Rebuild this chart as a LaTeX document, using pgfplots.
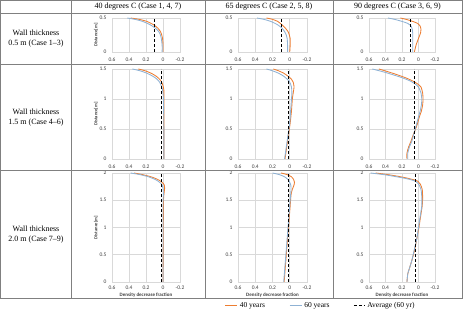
\documentclass[border=0pt]{standalone}
\usepackage{pgfplots}
\pgfplotsset{compat=1.18}
\usepackage{pgfplotstable}
\usepackage{fontspec}
\setmainfont{Liberation Serif}
\newfontfamily\calib{Carlito}
\definecolor{orgc}{RGB}{237,125,49}
\definecolor{bluc}{RGB}{143,178,212}
\definecolor{grd}{RGB}{217,217,217}
\definecolor{tbl}{RGB}{128,128,128}
\definecolor{tck}{RGB}{64,64,64}

\pgfplotstableread{
y o b
0 0 0.01
0.1 0 0.01
0.2 0.005 0.02
0.25 0.015 0.03
0.3 0.03 0.05
0.35 0.06 0.09
0.4 0.11 0.15
0.45 0.19 0.24
0.48 0.28 0.33
0.5 0.38 0.42
}\ta
\pgfplotstableread{
y o b
0 0 0.025
0.1 -0.005 0.025
0.2 -0.005 0.03
0.25 0.005 0.04
0.3 0.02 0.06
0.35 0.05 0.09
0.4 0.09 0.14
0.45 0.14 0.22
0.48 0.2 0.3
0.5 0.27 0.38
}\tb
\pgfplotstableread{
y o b
0 0.05 0.07
0.1 0.03 0.07
0.2 0.0 0.07
0.28 -0.025 0.07
0.33 -0.03 0.075
0.38 -0.02 0.09
0.42 0.01 0.13
0.45 0.07 0.2
0.48 0.15 0.29
0.5 0.22 0.37
}\tc
\pgfplotstableread{
y o b
0 -0.01 -0.01
0.5 -0.01 -0.01
1.0 -0.01 -0.005
1.15 -0.01 0.005
1.22 0.0 0.02
1.28 0.015 0.04
1.33 0.04 0.07
1.38 0.08 0.12
1.43 0.14 0.19
1.47 0.21 0.27
1.5 0.29 0.36
}\td
\pgfplotstableread{
y o b
0 0.055 0.06
0.2 0.035 0.04
0.4 0.015 0.02
0.6 -0.005 0.0
0.8 -0.02 -0.01
1.0 -0.03 -0.02
1.1 -0.04 -0.025
1.2 -0.05 -0.02
1.28 -0.04 0.0
1.33 -0.02 0.03
1.38 0.02 0.07
1.43 0.07 0.13
1.47 0.13 0.2
1.5 0.19 0.27
}\te
\pgfplotstableread{
y o b
0 0.14 0.13
0.1 0.14 0.13
0.2 0.12 0.11
0.3 0.09 0.08
0.4 0.065 0.06
0.5 0.035 0.04
0.6 0.01 0.02
0.7 -0.01 0.0
0.8 -0.035 -0.02
0.9 -0.05 -0.035
1.0 -0.055 -0.04
1.1 -0.05 -0.03
1.2 -0.03 0.0
1.25 0.01 0.04
1.3 0.07 0.1
1.35 0.15 0.19
1.4 0.25 0.3
1.45 0.36 0.42
1.5 0.48 0.56
}\tf
\pgfplotstableread{
y o b
0 0 0
1.4 -0.005 0
1.6 -0.01 -0.005
1.72 -0.02 0.0
1.78 -0.015 0.01
1.83 0.01 0.04
1.88 0.06 0.09
1.93 0.14 0.17
1.97 0.24 0.27
2.0 0.34 0.38
}\tg
\pgfplotstableread{
y o b
0 0.065 0.07
0.2 0.055 0.06
0.4 0.045 0.05
0.6 0.035 0.04
0.8 0.025 0.03
1.0 0.015 0.02
1.2 0.005 0.01
1.4 -0.005 0.0
1.6 -0.015 -0.01
1.7 -0.03 -0.015
1.78 -0.05 -0.012
1.83 -0.055 0.0
1.88 -0.045 0.02
1.93 -0.02 0.06
1.97 0.03 0.12
2.0 0.1 0.2
}\th
\pgfplotstableread{
y o b
0 0.14 0.14
0.15 0.13 0.13
0.25 0.11 0.11
0.4 0.08 0.08
0.6 0.045 0.05
0.8 0.02 0.02
1.0 -0.005 0.0
1.2 -0.025 -0.02
1.4 -0.045 -0.04
1.55 -0.05 -0.04
1.7 -0.045 -0.03
1.8 -0.02 0.0
1.85 0.01 0.04
1.88 0.07 0.1
1.91 0.15 0.19
1.94 0.25 0.3
1.97 0.37 0.42
2.0 0.52 0.58
}\ti

\pgfplotsset{
 panel/.style={scale only axis, anchor=south west,
  xmin=-0.6, xmax=0.2, x filter/.expression={-x},
  xtick={-0.6,-0.4,-0.2,0,0.2}, xticklabels={0.6,0.4,0.2,0,-0.2},
  ymin=0,
  grid=major, grid style={grd,line width=0.5pt},
  axis line style={grd,line width=0.5pt},
  major tick length=0pt,
  tick label style={font=\calib\fontsize{5.5}{6}\selectfont, text=tck},
  yticklabel style={xshift=-2pt},
  every axis y label/.style={at={(axis description cs:-0.235,0.5)},rotate=90,anchor=center,text=tck,font=\calib\bfseries\fontsize{4.6}{5}\selectfont},
  every axis x label/.style={at={(axis description cs:0.5,0)},yshift=-13pt,anchor=center,text=tck,font=\calib\bfseries\fontsize{5}{6}\selectfont},
 },
 r1/.style={panel, height=34pt, ymax=0.5, ytick={0,0.5}, yticklabels={0,0.5}, xticklabel style={yshift=-2pt}},
 r2/.style={panel, height=90pt, ymax=1.5, ytick={0,0.5,1,1.5}, yticklabels={0,0.5,1,1.5}, xticklabel style={yshift=-2pt}},
 r3/.style={panel, height=109pt, ymax=2, ytick={0,0.5,1,1.5,2}, yticklabels={0,0.5,1,1.5,2}},
 c1/.style={width=68pt}, c2/.style={width=69pt}, c3/.style={width=66pt},
 ob/.style={color=orgc, line width=0.85pt, smooth, tension=0.4, no markers},
 bb/.style={color=bluc, line width=0.85pt, smooth, tension=0.4, no markers},
 av/.style={color=black, line width=0.8pt, dash pattern=on 3pt off 2pt, no markers},
}

\begin{document}
\begin{tikzpicture}[x=1pt,y=1pt]
\path[use as bounding box] (0,0) rectangle (463,310);

% Row 1
\begin{axis}[r1,c1,at={(112pt,258pt)},ylabel={Distance[m]}]
\addplot[ob] table[x=o,y=y]{\ta};
\addplot[bb] table[x=b,y=y]{\ta};
\addplot[av] coordinates {(0.1,0) (0.1,0.5)};
\end{axis}
\begin{axis}[r1,c2,at={(238pt,258pt)}]
\addplot[ob] table[x=o,y=y]{\tb};
\addplot[bb] table[x=b,y=y]{\tb};
\addplot[av] coordinates {(0.1,0) (0.1,0.5)};
\end{axis}
\begin{axis}[r1,c3,at={(369pt,258pt)}]
\addplot[ob] table[x=o,y=y]{\tc};
\addplot[bb] table[x=b,y=y]{\tc};
\addplot[av] coordinates {(0.1,0) (0.1,0.5)};
\end{axis}

% Row 2
\begin{axis}[r2,c1,at={(112pt,151pt)},ylabel={Distance[m]}]
\addplot[ob] table[x=o,y=y]{\td};
\addplot[bb] table[x=b,y=y]{\td};
\addplot[av] coordinates {(0.02,0) (0.02,1.5)};
\end{axis}
\begin{axis}[r2,c2,at={(238pt,151pt)}]
\addplot[ob] table[x=o,y=y]{\te};
\addplot[bb] table[x=b,y=y]{\te};
\addplot[av] coordinates {(0.02,0) (0.02,1.5)};
\end{axis}
\begin{axis}[r2,c3,at={(369pt,151pt)}]
\addplot[ob] table[x=o,y=y]{\tf};
\addplot[bb] table[x=b,y=y]{\tf};
\addplot[av] coordinates {(0.045,0) (0.045,1.5)};
\end{axis}

% Row 3
\begin{axis}[r3,c1,at={(112pt,28pt)},ylabel={Distance[m]},xlabel={Density decrease fraction}]
\addplot[ob] table[x=o,y=y]{\tg};
\addplot[bb] table[x=b,y=y]{\tg};
\addplot[av] coordinates {(0.02,0) (0.02,2)};
\end{axis}
\begin{axis}[r3,c2,at={(238pt,28pt)},xlabel={Density decrease fraction},
  legend columns=3,
  legend style={draw=none,fill=none,at={(axis description cs:1.196,-0.215)},anchor=center,
    font=\fontsize{7.5}{8}\selectfont,inner sep=1pt,
    /tikz/every even column/.append style={column sep=22pt}}]
\addlegendimage{legend image code/.code={\pgfsetstrokecolor{orgc}\pgfsetlinewidth{1.4pt}\pgfsetdash{}{0pt}\pgfpathmoveto{\pgfpoint{0pt}{0pt}}\pgfpathlineto{\pgfpoint{12pt}{0pt}}\pgfusepath{stroke}}}
\addlegendentry{40 years}
\addlegendimage{legend image code/.code={\pgfsetstrokecolor{bluc}\pgfsetlinewidth{1.4pt}\pgfsetdash{}{0pt}\pgfpathmoveto{\pgfpoint{0pt}{0pt}}\pgfpathlineto{\pgfpoint{12pt}{0pt}}\pgfusepath{stroke}}}
\addlegendentry{60 years}
\addlegendimage{legend image code/.code={\pgfsetstrokecolor{black}\pgfsetlinewidth{0.8pt}\pgfsetdash{{3pt}{2pt}}{0pt}\pgfpathmoveto{\pgfpoint{0pt}{0pt}}\pgfpathlineto{\pgfpoint{11pt}{0pt}}\pgfusepath{stroke}}}
\addlegendentry{Average (60 yr)}
\addplot[ob,forget plot] table[x=o,y=y]{\th};
\addplot[bb,forget plot] table[x=b,y=y]{\th};
\addplot[av,forget plot] coordinates {(0.02,0) (0.02,2)};
\end{axis}
\begin{axis}[r3,c3,at={(369pt,28pt)},xlabel={Density decrease fraction}]
\addplot[ob] table[x=o,y=y]{\ti};
\addplot[bb] table[x=b,y=y]{\ti};
\addplot[av] coordinates {(0.035,0) (0.035,2)};
\end{axis}

% table lines
\begin{scope}[tbl, line width=0.6pt]
\draw (0.3,309.7) -- (462.7,309.7);
\draw (0.3,297) -- (462.7,297);
\draw (0.3,246) -- (462.7,246);
\draw (0.3,140) -- (462.7,140);
\draw (0.3,12) -- (462.7,12);
\draw (0.3,12) -- (0.3,309.7);
\draw (71,12) -- (71,309.7);
\draw (205,12) -- (205,309.7);
\draw (333,12) -- (333,309.7);
\draw (462.7,12) -- (462.7,309.7);
\end{scope}

\begin{scope}[font=\fontsize{8}{10}\selectfont]
\node at (138,303.5) {40 degrees C (Case 1, 4, 7)};
\node at (269,303.5) {65 degrees C (Case 2, 5, 8)};
\node at (397.5,303.5) {90 degrees C (Case 3, 6, 9)};
\node[align=center] at (36,271) {Wall thickness\\0.5 m (Case 1–3)};
\node[align=center] at (36,192) {Wall thickness\\1.5 m (Case 4–6)};
\node[align=center] at (36,75.5) {Wall thickness\\2.0 m (Case 7–9)};
\end{scope}
\end{tikzpicture}
\end{document}
